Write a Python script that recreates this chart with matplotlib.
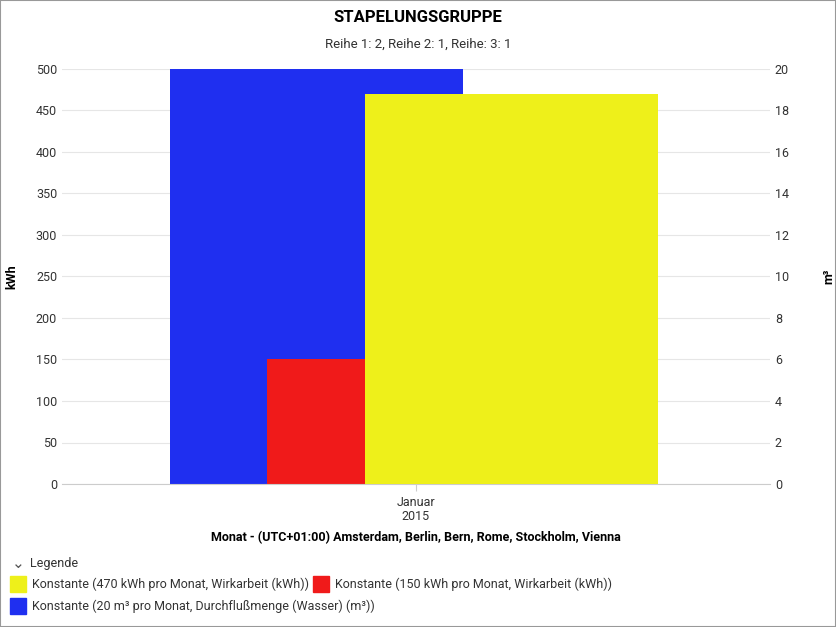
import matplotlib
matplotlib.use("Agg")
import matplotlib.pyplot as plt
from matplotlib.patches import Rectangle

plt.rcParams['font.family'] = ['Roboto', 'DejaVu Sans']

categories = ["Januar\n2015"]
series_names = ["Konstante (20 m³ pro Monat, Durchflußmenge (Wasser) (m³))",
                "Konstante (150 kWh pro Monat, Wirkarbeit (kWh))",
                "Konstante (470 kWh pro Monat, Wirkarbeit (kWh))"]
series_values = [20, 150, 470]          # blue in m³ (right axis), red/yellow kWh
colors = ["#1f2ff0", "#f01a1a", "#eef01a"]
offsets = [-0.347, -0.210, -0.072]
widths = [0.414, 0.138, 0.414]

W, H = 836, 627
fig = plt.figure(figsize=(W/100, H/100), dpi=100)
fig.patches.append(Rectangle((0, 0), 1, 1, transform=fig.transFigure, fill=False,
                             edgecolor="#999999", lw=1.5))
ax = fig.add_axes([62/W, 1-484/H, 708/W, 415/H])
ax2 = ax.twinx()
ax.set_xlim(-0.5, 0.5)
ax.set_ylim(0, 500)
ax2.set_ylim(0, 20)

ax2.set_zorder(0)
ax.set_zorder(1)
ax.patch.set_visible(False)
ax2.set_yticks(range(0, 21, 2))
ax2.grid(axis='y', color='#e6e6e6', lw=0.8)
ax2.set_axisbelow(True)
ax2.bar(offsets[0], series_values[0], width=widths[0], align='edge', color=colors[0], zorder=2)
ax.bar(offsets[1], series_values[1], width=widths[1], align='edge', color=colors[1], zorder=2)
ax.bar(offsets[2], series_values[2], width=widths[2], align='edge', color=colors[2], zorder=3)

ax.set_yticks(range(0, 501, 50))
ax.set_xticks([0])
ax.set_xticklabels(categories, fontsize=9, color='#333333', linespacing=1.1)
for a in (ax, ax2):
    for s in a.spines.values():
        s.set_visible(False)
    a.tick_params(axis='y', length=0, labelsize=9, labelcolor='#333333')
ax.spines['bottom'].set_visible(True)
ax.spines['bottom'].set_color('#cccccc')
ax.tick_params(axis='x', length=5, color='#cccccc')
ax.set_ylabel("kWh", fontsize=9, fontweight='bold')
ax.yaxis.set_label_coords(-44/708, 0.5)
ax2.set_ylabel("m³", fontsize=9, fontweight='bold')
ax2.yaxis.set_label_coords(1 + 52/708, 0.5)
ax.set_xlabel("Monat - (UTC+01:00) Amsterdam, Berlin, Bern, Rome, Stockholm, Vienna",
              fontsize=9, fontweight='bold', labelpad=6)

fig.text(0.5, 1-18/H, "STAPELUNGSGRUPPE", ha='center', va='center', fontsize=12, fontweight='bold')
fig.text(0.5, 1-44/H, "Reihe 1: 2, Reihe 2: 1, Reihe: 3: 1", ha='center', va='center', fontsize=9.5, color='#333333')

fig.text(12/W, 1-563/H, "⌄", ha='left', va='center', fontsize=11, color='#555555', family=['DejaVu Sans'])
fig.text(30/W, 1-563/H, "Legende", ha='left', va='center', fontsize=9, color='#333333')
items = [(10, 584, colors[2], series_names[2]), (313, 584, colors[1], series_names[1]),
         (10, 606, colors[0], series_names[0])]
for x, y, c, t in items:
    fig.patches.append(Rectangle((x/W, 1-(y+8)/H), 16/W, 16/H, transform=fig.transFigure, color=c))
    fig.text((x+22)/W, 1-y/H, t, ha='left', va='center', fontsize=9, color='#333333')

fig.savefig("out.png", dpi=100)
